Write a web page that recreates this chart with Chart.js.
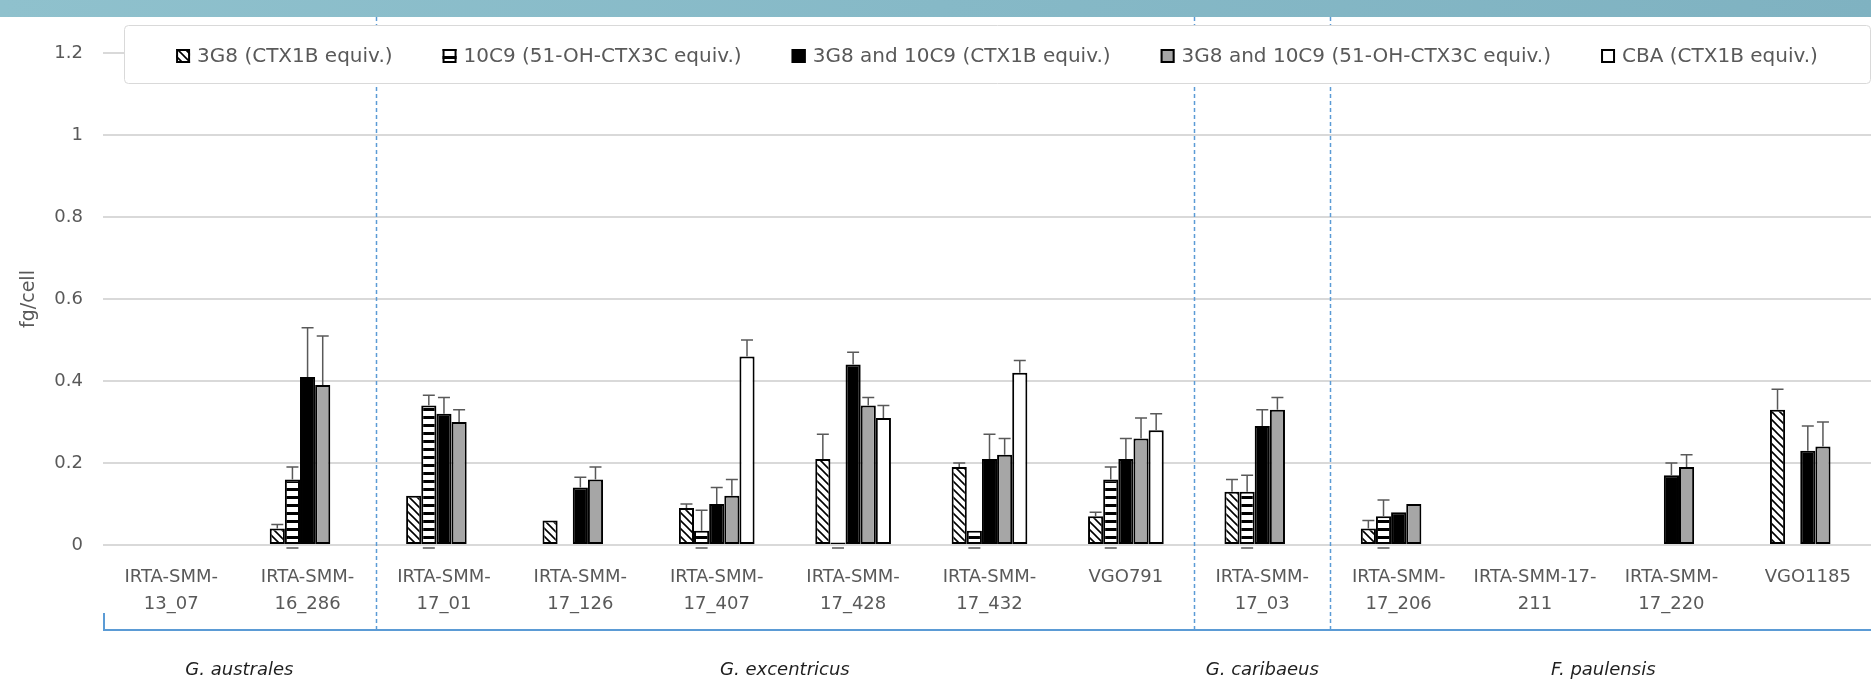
<!DOCTYPE html>
<html>
<head>
<meta charset="utf-8">
<script src="https://cdn.jsdelivr.net/npm/chart.js@4.4.0/dist/chart.umd.min.js"></script>
<style>
  html, body { margin: 0; padding: 0; overflow: hidden; background: #fff; }
  #wrap { position: absolute; left: 0; top: 0; width: 1880px; height: 687px; }
</style>
</head>
<body>
<div id="wrap"><canvas id="toxinChart"></canvas></div>
<script>
// strains (x categories)
const strains = [
  ['IRTA-SMM-', '13_07'], ['IRTA-SMM-', '16_286'], ['IRTA-SMM-', '17_01'], ['IRTA-SMM-', '17_126'],
  ['IRTA-SMM-', '17_407'], ['IRTA-SMM-', '17_428'], ['IRTA-SMM-', '17_432'], ['VGO791'],
  ['IRTA-SMM-', '17_03'], ['IRTA-SMM-', '17_206'], ['IRTA-SMM-17-', '211'], ['IRTA-SMM-', '17_220'], ['VGO1185']
];
const species = ['G. australes', 'G. excentricus', 'G. caribaeus', 'F. paulensis'];
const speciesFirst = [0, 2, 8, 9];
const speciesLast = [1, 7, 8, 12];

const seriesNames = ['3G8 (CTX1B equiv.)', '10C9 (51-OH-CTX3C equiv.)', '3G8 and 10C9 (CTX1B equiv.)',
  '3G8 and 10C9 (51-OH-CTX3C equiv.)', 'CBA (CTX1B equiv.)'];

// fg/cell and error (SD) per strain
const val3G8 = [null, 0.04, 0.12, 0.06, 0.09, 0.21, 0.19, 0.07, 0.13, 0.04, null, null, 0.33];
const err3G8 = [null, 0.01, null, null, 0.01, 0.06, 0.01, 0.01, 0.03, 0.02, null, null, 0.05];
const val10C9 = [null, 0.16, 0.34, null, 0.035, 0.006, 0.035, 0.16, 0.13, 0.07, null, null, null];
const err10C9 = [null, 0.03, 0.025, null, 0.05, null, null, 0.03, 0.04, 0.04, null, null, null];
const valMix1B = [null, 0.41, 0.32, 0.14, 0.10, 0.44, 0.21, 0.21, 0.29, 0.08, null, 0.17, 0.23];
const errMix1B = [null, 0.12, 0.04, 0.025, 0.04, 0.03, 0.06, 0.05, 0.04, null, null, 0.03, 0.06];
const valMix3C = [null, 0.39, 0.30, 0.16, 0.12, 0.34, 0.22, 0.26, 0.33, 0.10, null, 0.19, 0.24];
const errMix3C = [null, 0.12, 0.03, 0.03, 0.04, 0.02, 0.04, 0.05, 0.03, null, null, 0.03, 0.06];
const valCBA = [null, null, null, null, 0.46, 0.31, 0.42, 0.28, null, null, null, null, null];
const errCBA = [null, null, null, null, 0.04, 0.03, 0.03, 0.04, null, null, null, null, null];

const yTicks = [0, 0.2, 0.4, 0.6, 0.8, 1, 1.2];

const FONT = 'DejaVu Sans';
const GREY_TEXT = '#595959';
const BLUE = '#5b9bd5';

function makeTile(draw) {
  const c = document.createElement('canvas');
  c.width = 8; c.height = 8;
  const g = c.getContext('2d');
  g.fillStyle = '#fff';
  g.fillRect(0, 0, 8, 8);
  draw(g);
  return g.createPattern(c, 'repeat');
}
const hatch = makeTile(g => {
  g.strokeStyle = '#000';
  g.lineWidth = 1.6;
  g.beginPath();
  g.moveTo(-2, -2); g.lineTo(10, 10);
  g.moveTo(-2, 6); g.lineTo(2, 10);
  g.moveTo(6, -2); g.lineTo(10, 2);
  g.stroke();
});
const stripes = makeTile(g => {
  g.fillStyle = '#000';
  g.fillRect(0, 0, 8, 3);
});

const fills = [hatch, stripes, '#000', '#a6a6a6', '#fff'];
const values = [val3G8, val10C9, valMix1B, valMix3C, valCBA];
const errors = [err3G8, err10C9, errMix1B, errMix3C, errCBA];

const datasets = seriesNames.map((name, i) => ({
  label: name,
  data: values[i],
  errors: errors[i],
  baseCap: i === 1,
  backgroundColor: fills[i],
  borderColor: '#000',
  borderWidth: 2,
  borderSkipped: false
}));

// error bars
const errorBars = {
  id: 'errorBars',
  afterDatasetsDraw(chart) {
    const ctx = chart.ctx;
    const ys = chart.scales.y;
    const zero = ys.getPixelForValue(0);
    ctx.save();
    ctx.strokeStyle = '#595959';
    ctx.lineWidth = 1.5;
    chart.data.datasets.forEach((ds, di) => {
      const meta = chart.getDatasetMeta(di);
      ds.data.forEach((v, i) => {
        if (v == null) return;
        const x = meta.data[i].x;
        ctx.beginPath();
        if (ds.baseCap) {
          ctx.moveTo(x - 6, zero + 3); ctx.lineTo(x + 6, zero + 3);
        }
        const e = ds.errors[i];
        if (e != null) {
          const top = ys.getPixelForValue(v);
          const tip = ys.getPixelForValue(v + e);
          ctx.moveTo(x, top); ctx.lineTo(x, tip);
          ctx.moveTo(x - 6, tip); ctx.lineTo(x + 6, tip);
        }
        ctx.stroke();
      });
    });
    ctx.restore();
  }
};

// banner, species brackets, separators and legend box
const decor = {
  id: 'decor',
  afterDraw(chart) {
    const ctx = chart.ctx;
    const xs = chart.scales.x;
    const area = chart.chartArea;
    const W = chart.width;
    ctx.save();

    const band = ctx.createLinearGradient(0, 0, W, 0);
    band.addColorStop(0, '#8fc1cd');
    band.addColorStop(0.5, '#86b9c7');
    band.addColorStop(1, '#7fb2c1');
    ctx.fillStyle = band;
    ctx.fillRect(0, 0, W, 17);

    const edge = k => (xs.getPixelForValue(k) + xs.getPixelForValue(k + 1)) / 2;
    const baseY = 630;

    ctx.strokeStyle = BLUE;
    ctx.lineWidth = 1.5;
    ctx.setLineDash([4, 3]);
    speciesLast.slice(0, -1).forEach(k => {
      const x = Math.round(edge(k)) + 0.5;
      ctx.beginPath();
      ctx.moveTo(x, 17); ctx.lineTo(x, baseY);
      ctx.stroke();
    });
    ctx.setLineDash([]);
    ctx.lineWidth = 2;
    ctx.beginPath();
    ctx.moveTo(area.left + 1, 613);
    ctx.lineTo(area.left + 1, baseY);
    ctx.lineTo(W, baseY);
    ctx.stroke();

    ctx.fillStyle = '#1f1f1f';
    ctx.font = 'italic 18px "' + FONT + '"';
    ctx.textAlign = 'center';
    ctx.textBaseline = 'middle';
    species.forEach((s, i) => {
      const l = speciesFirst[i] === 0 ? area.left : edge(speciesFirst[i] - 1);
      const r = speciesLast[i] === strains.length - 1 ? area.right : edge(speciesLast[i]);
      ctx.fillText(s, (l + r) / 2, 670);
    });

    // legend
    const bx = 124, by = 25, bw = 1746, bh = 58;
    ctx.fillStyle = '#fff';
    ctx.strokeStyle = '#d9d9d9';
    ctx.lineWidth = 1;
    ctx.beginPath();
    ctx.roundRect(bx + 0.5, by + 0.5, bw, bh, 4);
    ctx.fill();
    ctx.stroke();

    ctx.font = '20px "' + FONT + '"';
    const box = 14, gap = 7, spacing = 50;
    const widths = seriesNames.map(n => box + gap + ctx.measureText(n).width);
    const total = widths.reduce((a, b) => a + b, 0) + spacing * (widths.length - 1);
    let x = bx + bw / 2 - total / 2;
    const cy = 56;
    ctx.textAlign = 'left';
    seriesNames.forEach((n, i) => {
      ctx.fillStyle = fills[i];
      ctx.fillRect(x, cy - box / 2, box, box);
      ctx.strokeStyle = '#000';
      ctx.lineWidth = 2;
      ctx.strokeRect(x + 1, cy - box / 2 + 1, box - 2, box - 2);
      ctx.fillStyle = GREY_TEXT;
      ctx.fillText(n, x + box + gap, cy + 1);
      x += widths[i] + spacing;
    });
    ctx.restore();
  }
};

new Chart(document.getElementById('toxinChart'), {
  type: 'bar',
  data: { labels: strains, datasets: datasets },
  options: {
    responsive: true,
    maintainAspectRatio: false,
    animation: false,
    devicePixelRatio: 1,
    layout: { padding: { top: 53, right: 4, left: 0, bottom: 0 } },
    datasets: { bar: { categoryPercentage: 0.555, barPercentage: 1 } },
    plugins: { legend: { display: false }, tooltip: { enabled: false } },
    scales: {
      x: {
        grid: { display: false },
        border: { display: false },
        ticks: {
          color: GREY_TEXT,
          font: { family: FONT, size: 18, lineHeight: 1.5 },
          padding: 11,
          maxRotation: 0,
          minRotation: 0,
          autoSkip: false
        },
        afterFit: s => { s.height = 142; }
      },
      y: {
        min: 0,
        max: 1.2,
        afterBuildTicks: s => { s.ticks = yTicks.map(v => ({ value: v })); },
        ticks: {
          color: GREY_TEXT,
          font: { family: FONT, size: 18 },
          padding: 20,
          callback: v => String(+v.toFixed(1))
        },
        grid: { color: '#d9d9d9', lineWidth: 2, drawTicks: false },
        border: { display: false },
        title: {
          display: true,
          text: 'fg/cell',
          color: GREY_TEXT,
          font: { family: FONT, size: 19 },
          padding: { top: 18, bottom: 0 }
        },
        afterFit: s => { s.width = 103; }
      }
    }
  },
  plugins: [errorBars, decor]
});
</script>
</body>
</html>
